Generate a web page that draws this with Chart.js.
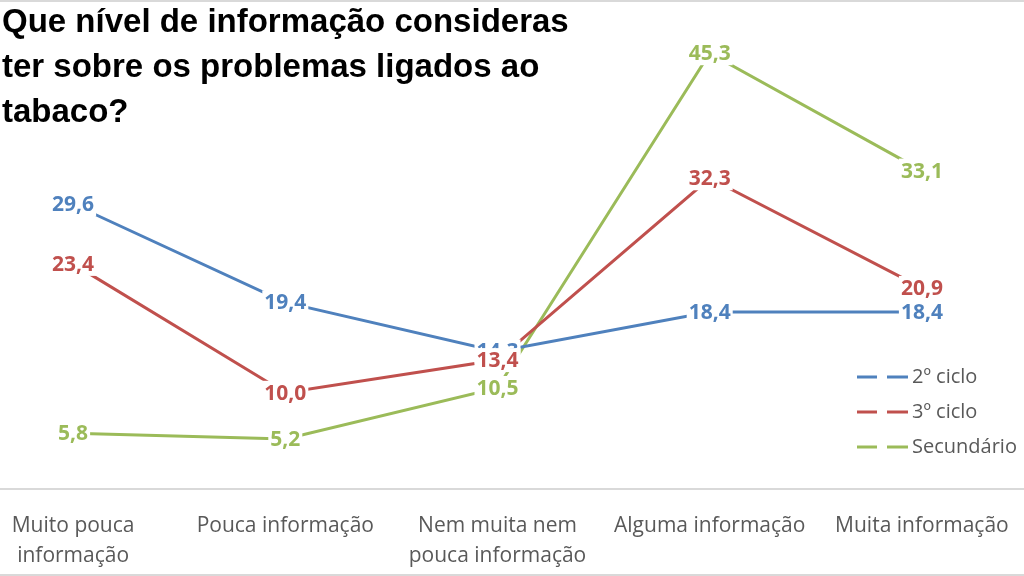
<!DOCTYPE html>
<html>
<head>
<meta charset="utf-8">
<script src="https://cdn.jsdelivr.net/npm/chart.js@4"></script>
<style>
  html, body { margin: 0; padding: 0; background: #fff; }
  #wrap { position: relative; width: 1024px; height: 576px; overflow: hidden; box-sizing: border-box;
          border-top: 2px solid #d9d9d9; border-bottom: 2px solid #d9d9d9; }
  #title { position: absolute; left: 2px; top: -4px; margin: 0; font: bold 33px "Liberation Sans", Arial, sans-serif;
           line-height: 45px; color: #000; z-index: 2; }
  #box { position: absolute; left: -60px; top: -2px; width: 1144px; height: 576px; }
</style>
</head>
<body>
<div id="wrap">
  <h1 id="title">Que nível de informação consideras<br>ter sobre os problemas ligados ao<br>tabaco?</h1>
  <div id="box"><canvas id="chart"></canvas></div>
</div>
<script>
const categories = [['Muito pouca', 'informação'], 'Pouca informação', ['Nem muita nem', 'pouca informação'], 'Alguma informação', 'Muita informação'];
const seriesNames = ['2º ciclo', '3º ciclo', 'Secundário'];
const ciclo2 = [29.6, 19.4, 14.3, 18.4, 18.4];
const ciclo3 = [23.4, 10.0, 13.4, 32.3, 20.9];
const secundario = [5.8, 5.2, 10.5, 45.3, 33.1];
const seriesColors = ['#4F81BD', '#C0504D', '#9BBB59'];

const SHIFT = 60; // canvas sits 60px left of the page

// etiquetas de valor com fundo branco, centradas no ponto
const valueLabels = {
    id: 'valueLabels',
    afterDatasetsDraw(chart) {
        const ctx = chart.ctx;
        ctx.save();
        ctx.font = 'bold 21px "Open Sans", sans-serif';
        ctx.textAlign = 'center';
        ctx.textBaseline = 'middle';
        chart.data.datasets.forEach((ds, i) => {
            const meta = chart.getDatasetMeta(i);
            meta.data.forEach((pt, j) => {
                const txt = ds.data[j].toFixed(1).replace('.', ',');
                const w = ctx.measureText(txt).width + 4;
                ctx.fillStyle = '#fff';
                ctx.fillRect(pt.x - w / 2, pt.y - 12, w, 24);
                ctx.fillStyle = ds.borderColor;
                ctx.fillText(txt, pt.x, pt.y + 1);
            });
        });
        ctx.restore();
    }
};

// legenda à direita, linha com intervalo ao meio
const sideLegend = {
    id: 'sideLegend',
    afterDraw(chart) {
        const ctx = chart.ctx;
        ctx.save();
        ctx.font = '20px "Open Sans", sans-serif';
        ctx.textBaseline = 'middle';
        ctx.lineWidth = 3;
        chart.data.datasets.forEach((ds, i) => {
            const y = 377 + i * 35;
            const x = 857 + SHIFT;
            ctx.strokeStyle = ds.borderColor;
            ctx.beginPath();
            ctx.moveTo(x, y); ctx.lineTo(x + 20, y);
            ctx.moveTo(x + 30, y); ctx.lineTo(x + 51, y);
            ctx.stroke();
            ctx.fillStyle = '#595959';
            ctx.fillText(ds.label, 912 + SHIFT, y);
        });
        ctx.restore();
    }
};

const allSeries = [ciclo2, ciclo3, secundario];

new Chart(document.getElementById('chart'), {
    type: 'line',
    data: {
        labels: categories,
        datasets: allSeries.map((vals, i) => ({
            label: seriesNames[i],
            data: vals,
            borderColor: seriesColors[i],
            backgroundColor: seriesColors[i],
            borderWidth: 3,
            pointRadius: 0,
            tension: 0,
            fill: false,
            clip: false
        }))
    },
    options: {
        responsive: true,
        maintainAspectRatio: false,
        animation: false,
        layout: { padding: { left: 27, right: 56, top: 8, bottom: 0 } },
        scales: {
            x: {
                offset: true,
                grid: { display: false },
                border: { display: true, color: '#d9d9d9', width: 2 },
                ticks: {
                    color: '#595959',
                    font: { family: '"Open Sans", sans-serif', size: 21, lineHeight: 1.42 },
                    padding: 14,
                    maxRotation: 0,
                    autoSkip: false
                },
                afterFit(scale) { scale.height = 87; }
            },
            y: {
                display: false,
                min: 0,
                max: 50
            }
        },
        plugins: {
            legend: { display: false },
            tooltip: { enabled: false }
        }
    },
    plugins: [valueLabels, sideLegend]
});
</script>
</body>
</html>
